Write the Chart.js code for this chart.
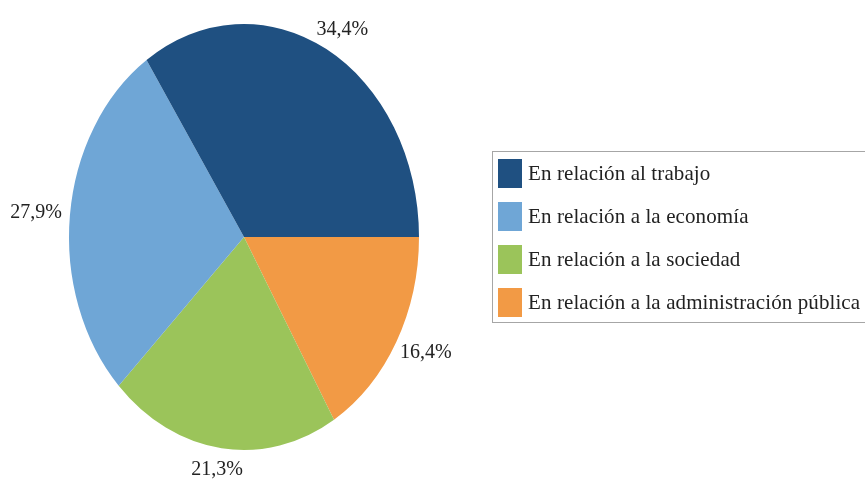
<!DOCTYPE html>
<html lang="es">
<head>
  <meta charset="UTF-8">
  <title>Distribución por ámbito</title>
  <script src="https://cdn.jsdelivr.net/npm/chart.js"></script>
  <style>
    body {
      margin: 0;
      padding: 0;
      background: #fff;
      overflow: hidden;
      font-family: 'Liberation Serif', serif;
    }

    .wrap {
      position: relative;
      width: 865px;
      height: 479px;
      overflow: hidden;
    }

    #pieChart {
      position: absolute;
      left: 0;
      top: 0;
    }

    /* legend box, its right side runs off the page like in the original */
    .legend {
      position: absolute;
      left: 492px;
      top: 151px;
      width: 390px;
      height: 172px;
      border: 1px solid #a6a6a6;
      box-sizing: border-box;
      padding-top: 0;
    }

    .legend-item {
      display: flex;
      align-items: center;
      height: 43px;
      margin-left: 5px;
    }

    .legend-item .box {
      width: 24px;
      height: 29px;
      margin-right: 6px;
      flex: none;
    }

    .legend-item span {
      font-size: 21px;
      letter-spacing: 0.1px;
      color: #222;
      white-space: nowrap;
    }
  </style>
</head>
<body>

<div class="wrap">
  <canvas id="pieChart" width="865" height="479"></canvas>
  <div class="legend" id="legend"></div>
</div>

<script>
  // data, in legend order
  var categories = [
    'En relación al trabajo',
    'En relación a la economía',
    'En relación a la sociedad',
    'En relación a la administración pública'
  ];
  var values = [34.4, 27.9, 21.3, 16.4];
  var colors = ['#1f5081', '#6fa6d6', '#9bc45a', '#f29a45'];

  // the original pie is drawn a bit taller than wide
  var stretchY = 213 / 175;

  // slices go counter-clockwise in the original, so feed them reversed
  var pieLabels = categories.slice().reverse();
  var pieValues = values.slice().reverse();
  var pieColors = colors.slice().reverse();

  function fmt(v) {
    return v.toFixed(1).replace('.', ',') + '%';
  }

  // build legend
  var legendEl = document.getElementById('legend');
  categories.forEach(function(name, i) {
    var item = document.createElement('div');
    item.className = 'legend-item';
    var box = document.createElement('div');
    box.className = 'box';
    box.style.background = colors[i];
    var txt = document.createElement('span');
    txt.textContent = name;
    item.appendChild(box);
    item.appendChild(txt);
    legendEl.appendChild(item);
  });

  var ellipsePlugin = {
    id: 'ellipse',
    beforeDatasetsDraw: function(chart) {
      var ctx = chart.ctx;
      var a = chart.chartArea;
      var cx = (a.left + a.right) / 2;
      var cy = (a.top + a.bottom) / 2;
      ctx.save();
      ctx.translate(cx, cy);
      ctx.scale(1, stretchY);
      ctx.translate(-cx, -cy);
    },
    afterDatasetsDraw: function(chart) {
      var ctx = chart.ctx;
      ctx.restore();

      // value labels outside each slice
      var meta = chart.getDatasetMeta(0);
      ctx.save();
      ctx.font = '20px "Liberation Serif", serif';
      ctx.fillStyle = '#222';
      ctx.textAlign = 'center';
      ctx.textBaseline = 'middle';
      meta.data.forEach(function(arc, i) {
        var mid = (arc.startAngle + arc.endAngle) / 2;
        var r = arc.outerRadius;
        var d = 12;
        var c = Math.cos(mid), s = Math.sin(mid);
        var text = fmt(pieValues[i]);
        var w = ctx.measureText(text).width;
        var h = 20;
        var x = arc.x + c * (r + d) + c * w / 2 * 0.85;
        var y = arc.y + s * (r * stretchY + d) + s * h / 2;
        ctx.fillText(text, x, y);
      });
      ctx.restore();
    }
  };

  var ctx = document.getElementById('pieChart').getContext('2d');
  var chart = new Chart(ctx, {
    type: 'pie',
    data: {
      labels: pieLabels,
      datasets: [{
        data: pieValues,
        backgroundColor: pieColors,
        borderWidth: 0
      }]
    },
    options: {
      responsive: false,
      animation: false,
      rotation: 90,
      layout: {
        padding: { left: 69, right: 446, top: 62, bottom: 67 }
      },
      plugins: {
        legend: { display: false },
        tooltip: { enabled: false }
      }
    },
    plugins: [ellipsePlugin]
  });
</script>

</body>
</html>
